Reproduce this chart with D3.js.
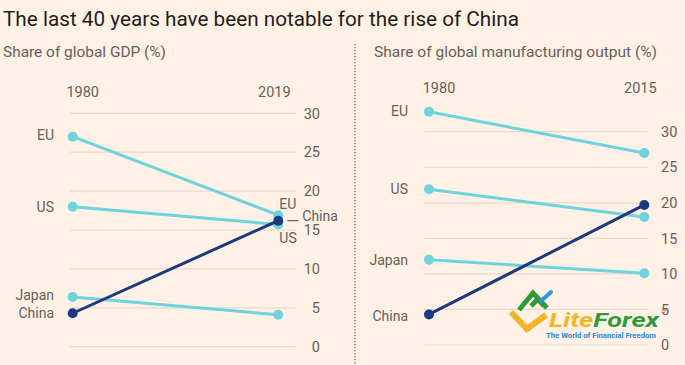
<!DOCTYPE html>
<html><head><meta charset="utf-8">
<script src="https://cdn.jsdelivr.net/npm/d3@7"></script>
<style>
html,body{margin:0;padding:0;background:#fff1e5;}
svg{display:block;font-family:Roboto,"Noto Sans",sans-serif;}
</style></head>
<body>
<script>
// ---- data ----
const countries = ["EU", "US", "Japan", "China"];
const gdpYears = ["1980", "2019"];
const gdp1980 = [27.0, 18.0, 6.4, 4.3];
const gdp2019 = [16.9, 15.7, 4.1, 16.2];
const mfgYears = ["1980", "2015"];
const mfg1980 = [32.8, 21.9, 12.0, 4.3];
const mfg2015 = [27.0, 18.0, 10.1, 19.7];
const yTicks = [0, 5, 10, 15, 20, 25, 30];
const titleText = "The last 40 years have been notable for the rise of China";
const gdpSubtitle = "Share of global GDP (%)";
const mfgSubtitle = "Share of global manufacturing output (%)";

const W = 685, H = 365;
const svg = d3.select("body").append("svg").attr("width", W).attr("height", H);
svg.append("rect").attr("width", W).attr("height", H).attr("fill", "#fff1e5");

const cLight = "#6fd3de", cDark = "#1b3a7d", cGrid = "#e8d9cb", cText = "#66605c";

svg.append("text").attr("x", 3).attr("y", 26).attr("font-size", 21).attr("fill", "#1f1d1c")
  .attr("textLength", 516).attr("lengthAdjust", "spacingAndGlyphs").text(titleText);
svg.append("text").attr("x", 3).attr("y", 57).attr("font-size", 15).attr("fill", cText)
  .attr("textLength", 163).attr("lengthAdjust", "spacingAndGlyphs").text(gdpSubtitle);
svg.append("text").attr("x", 374).attr("y", 57).attr("font-size", 15).attr("fill", cText)
  .attr("textLength", 283).attr("lengthAdjust", "spacingAndGlyphs").text(mfgSubtitle);

svg.append("line").attr("x1", 355).attr("x2", 355).attr("y1", 44).attr("y2", H)
  .attr("stroke", "#66605c").attr("stroke-width", 1.2).attr("stroke-dasharray", "1.2,1.8");

function panel(o) {
  const g = svg.append("g");
  const y = d3.scaleLinear().domain([0, 30]).range(o.yRange);
  const x = d3.scalePoint().domain(o.years).range(o.xRange);
  g.selectAll(".grid").data(yTicks).join("line")
    .attr("x1", o.gridX[0]).attr("x2", o.gridX[1])
    .attr("y1", d => y(d)).attr("y2", d => y(d))
    .attr("stroke", cGrid).attr("stroke-width", 1.2);
  g.selectAll(".tick").data(yTicks).join("text")
    .attr("x", o.tickX).attr("y", d => y(d)).attr("dy", "0.36em")
    .attr("text-anchor", o.tickAnchor).attr("font-size", 14.5).attr("fill", cText)
    .text(d => d);
  g.selectAll(".yr").data(o.years).join("text")
    .attr("x", (d, i) => x(d) + o.yearDx[i]).attr("y", o.yearY)
    .attr("text-anchor", "middle").attr("font-size", 14.5).attr("fill", cText).text(d => d);
  const rows = countries.map((c, i) => ({ c, a: o.a[i], b: o.b[i] }));
  const order = rows.filter(r => r.c !== "China").concat(rows.filter(r => r.c === "China"));
  order.forEach(r => {
    const col = r.c === "China" ? cDark : cLight;
    g.append("line").attr("x1", x(o.years[0])).attr("y1", y(r.a))
      .attr("x2", x(o.years[1])).attr("y2", y(r.b))
      .attr("stroke", col).attr("stroke-width", 3);
    g.append("circle").attr("cx", x(o.years[0])).attr("cy", y(r.a)).attr("r", 5).attr("fill", col);
    g.append("circle").attr("cx", x(o.years[1])).attr("cy", y(r.b)).attr("r", 5).attr("fill", col);
  });
  rows.forEach((r, i) => {
    g.append("text").attr("x", o.labelX).attr("y", y(r.a) + o.labelDy[i]).attr("dy", "0.36em")
      .attr("text-anchor", "end").attr("font-size", 14).attr("fill", cText).text(r.c);
  });
  return { g, x, y };
}

const left = panel({
  years: gdpYears, a: gdp1980, b: gdp2019,
  yRange: [346.7, 113.3], xRange: [72.7, 278.3], gridX: [70, 296],
  tickX: 320, tickAnchor: "end", yearY: 97, yearDx: [10, -4],
  labelX: 54, labelDy: [-1.5, 0, -1.5, 0]
});
const xe = left.x("2019");
left.g.append("text").attr("x", xe + 1).attr("y", left.y(gdp2019[0]) - 11).attr("dy", "0.36em")
  .attr("font-size", 14).attr("fill", cText).text(countries[0]);
left.g.append("text").attr("x", xe + 1).attr("y", left.y(gdp2019[1]) + 13).attr("dy", "0.36em")
  .attr("font-size", 14).attr("fill", cText).text(countries[1]);
left.g.append("line").attr("x1", xe + 9).attr("x2", xe + 20)
  .attr("y1", left.y(gdp2019[3])).attr("y2", left.y(gdp2019[3]))
  .attr("stroke", cText).attr("stroke-width", 1.2);
left.g.append("text").attr("x", xe + 24).attr("y", left.y(gdp2019[3]) - 5).attr("dy", "0.36em")
  .attr("font-size", 14).attr("fill", cText).text(countries[3]);

panel({
  years: mfgYears, a: mfg1980, b: mfg2015,
  yRange: [345, 131.7], xRange: [429, 644.3], gridX: [424, 648],
  tickX: 661, tickAnchor: "start", yearY: 92.5, yearDx: [10, -4],
  labelX: 408, labelDy: [-1, 0, 0, 2]
});

// watermark (approximation of the LiteForex logo)
const wm = svg.append("g");
wm.append("path").attr("d", "M511,312 L527,329 L546,315").attr("fill", "none")
  .attr("stroke", "#f2b527").attr("stroke-width", 6).attr("stroke-linejoin", "miter");
wm.append("path").attr("d", "M519,310 L533,293 L547,308 M531,306 L538,299 L544,306").attr("fill", "none")
  .attr("stroke", "#2f9a3c").attr("stroke-width", 5);
wm.append("path").attr("d", "M541,301 L551,292").attr("fill", "none")
  .attr("stroke", "#2d96e0").attr("stroke-width", 4).attr("stroke-linecap", "round");
const lt = wm.append("text").attr("x", 549).attr("y", 327).attr("font-size", 20)
  .attr("font-weight", "bold").attr("font-style", "italic").attr("textLength", 110)
  .attr("lengthAdjust", "spacingAndGlyphs");
lt.append("tspan").attr("fill", "#f2b527").text("Lite");
lt.append("tspan").attr("fill", "#2f9a3c").text("Forex");
wm.append("text").attr("x", 662).attr("y", 313).attr("font-size", 6).attr("fill", "#e0443a").text("®");
wm.append("text").attr("x", 546).attr("y", 338).attr("font-size", 7).attr("font-weight", "bold")
  .attr("fill", "#2a88d2").attr("textLength", 110).attr("lengthAdjust", "spacingAndGlyphs")
  .text("The World of Financial Freedom");
</script>
</body></html>
